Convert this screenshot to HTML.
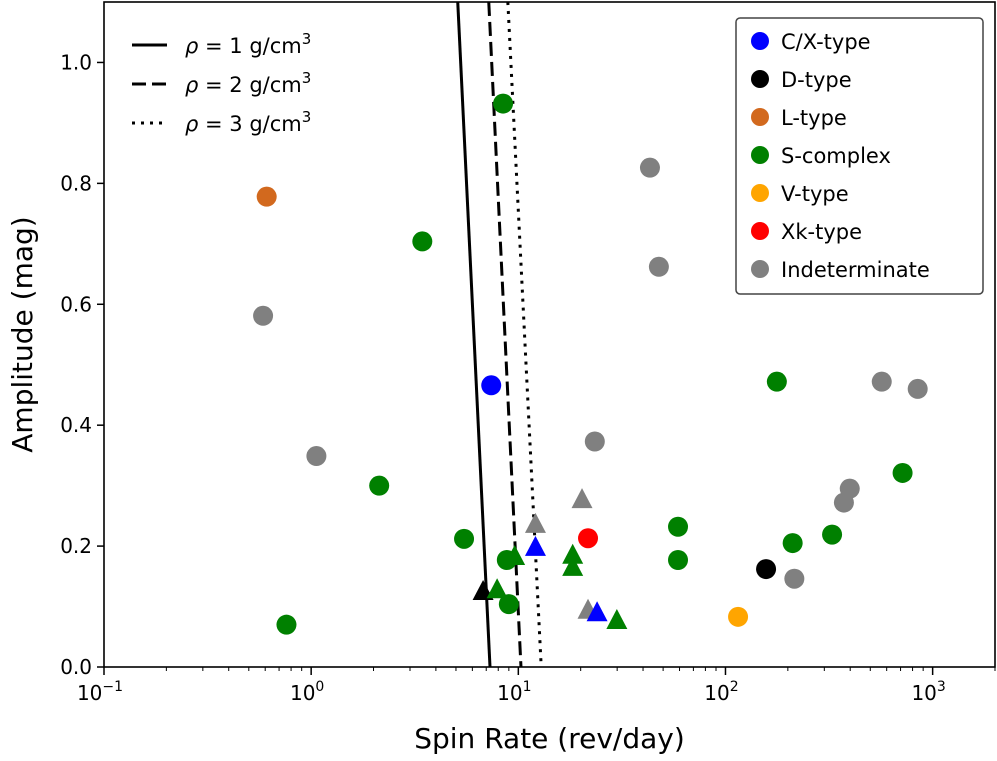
<!DOCTYPE html>
<html><head><meta charset="utf-8"><style>
body{margin:0;background:#fff;}
svg text{font-family:"DejaVu Sans","Liberation Sans",sans-serif;}
</style></head><body>
<svg id="c" width="997" height="756" xmlns="http://www.w3.org/2000/svg"></svg>
<script>
const circleX=[8.44,0.61,3.44,0.586,7.4,43.2,47.7,1.06,2.13,177,568,847,716,398,373,327,211,23.4,59,59,21.7,157,215,115,5.47,8.8,9.0,0.76];
const circleY=[0.932,0.778,0.704,0.581,0.466,0.826,0.662,0.349,0.300,0.472,0.472,0.460,0.321,0.295,0.272,0.219,0.205,0.373,0.232,0.177,0.213,0.162,0.146,0.083,0.212,0.177,0.104,0.070];
const circleType=["S","L","S","I","C","I","I","I","S","S","I","I","S","I","I","S","S","I","S","S","Xk","D","I","V","S","S","S","S"];
const triX=[6.76,7.9,9.6,12.1,12.1,20.3,18.3,18.3,21.7,24,29.9];
const triY=[0.124,0.127,0.182,0.235,0.197,0.276,0.184,0.164,0.093,0.089,0.076];
const triType=["D","S","S","I","C","I","S","S","I","C","S"];
const lineTopX=[5.1,7.2,8.9];
const lineBotX=[7.3,10.3,12.9];
const lineLabels=["1","2","3"];
const yTicks=[0,0.2,0.4,0.6,0.8,1.0];
const yTickLabels=["0.0","0.2","0.4","0.6","0.8","1.0"];
const xDecades=[-1,0,1,2,3];
const legendTypes=["C","D","L","S","V","Xk","I"];
const legendLabels=["C/X-type","D-type","L-type","S-complex","V-type","Xk-type","Indeterminate"];
const colors={C:"#0000ff",D:"#000000",L:"#d2691e",S:"#008000",V:"#ffa500",Xk:"#ff0000",I:"#808080"};

const L=104,R=995,T=2,B=667,XMIN=-1,XMAX=Math.log10(2000),YMAX=1.1;
const sx=v=>L+(Math.log10(v)-XMIN)/(XMAX-XMIN)*(R-L);
const sy=v=>B-v/YMAX*(B-T);
const svg=document.getElementById('c');
const NS="http://www.w3.org/2000/svg";
function el(t,a,p){const e=document.createElementNS(NS,t);for(const k in a)e.setAttribute(k,a[k]);(p||svg).appendChild(e);return e;}

const defs=el('defs',{});
const cp=el('clipPath',{id:'pc'},defs);el('rect',{x:L,y:T,width:R-L,height:B-T},cp);
const plot=el('g',{'clip-path':'url(#pc)'});



const dashes=["","14,6","3,6"];
for(let i=0;i<3;i++){
 const ln=el('line',{x1:sx(lineTopX[i]),y1:T,x2:sx(lineBotX[i]),y2:B,stroke:'#000','stroke-width':3,'stroke-dasharray':dashes[i]},plot);
 
 
}
for(let i=0;i<circleX.length;i++){
 const c=el('circle',{cx:sx(circleX[i]),cy:sy(circleY[i]),r:10,fill:colors[circleType[i]]},plot);
 
 
}
for(let i=0;i<triX.length;i++){
 const x=sx(triX[i]),y=sy(triY[i]);
 const p=el('polygon',{points:`${x},${y-12} ${x-10.5},${y+8} ${x+10.5},${y+8}`,fill:colors[triType[i]]},plot);
 
 
}
const fr=el('rect',{x:L,y:T,width:R-L,height:B-T,fill:'none',stroke:'#000','stroke-width':1.6});


for(let i=0;i<yTicks.length;i++){
 const y=sy(yTicks[i]);
 el('line',{x1:L-7,y1:y,x2:L,y2:y,stroke:'#000','stroke-width':1.5});
 const t=el('text',{x:L-12,y:y+7,'text-anchor':'end','font-size':20});t.textContent=yTickLabels[i];
 
 
}
for(const d of xDecades){
 const x=sx(Math.pow(10,d));
 el('line',{x1:x,y1:B,x2:x,y2:B+8,stroke:'#000','stroke-width':1.5});
 const t=el('text',{x:x-4,y:B+33,'text-anchor':'middle','font-size':20});
 t.textContent='10';
 const s=el('tspan',{dy:-9,'font-size':14},t);s.textContent=String(d).replace('-','\u2212');
 
 
 for(let m=2;m<10;m++){const v=m*Math.pow(10,d);if(Math.log10(v)>XMAX)break;const xm=sx(v);el('line',{x1:xm,y1:B,x2:xm,y2:B+4,stroke:'#000','stroke-width':1});}
}
const xl=el('text',{x:(L+R)/2,y:748,'text-anchor':'middle','font-size':28});xl.textContent='Spin Rate (rev/day)';


const yl=el('text',{x:0,y:0,'text-anchor':'middle','font-size':28,transform:`translate(32,${(T+B)/2}) rotate(-90)`});yl.textContent='Amplitude (mag)';


const lg=el('g',{});


for(let i=0;i<3;i++){
 const y=45+i*39;
 el('line',{x1:132,y1:y,x2:167,y2:y,stroke:'#000','stroke-width':3,'stroke-dasharray':dashes[i]},lg);
 const t=el('text',{x:185,y:y+8,'font-size':21},lg);
 const a=el('tspan',{'font-style':'italic'},t);a.textContent='ρ';
 const b=el('tspan',{},t);b.textContent=' = '+lineLabels[i]+' g/cm';
 const c=el('tspan',{dy:-9,'font-size':15},t);c.textContent='3';
}
const rg=el('g',{});


el('rect',{x:736,y:18,width:247,height:276,rx:4,fill:'#fff',stroke:'#444','stroke-width':1.5},rg);
for(let i=0;i<legendTypes.length;i++){
 const y=41+i*38;
 el('circle',{cx:760,cy:y,r:9,fill:colors[legendTypes[i]]},rg);
 const t=el('text',{x:781,y:y+8,'font-size':21},rg);t.textContent=legendLabels[i];
 
 
}
</script>
</body></html>
